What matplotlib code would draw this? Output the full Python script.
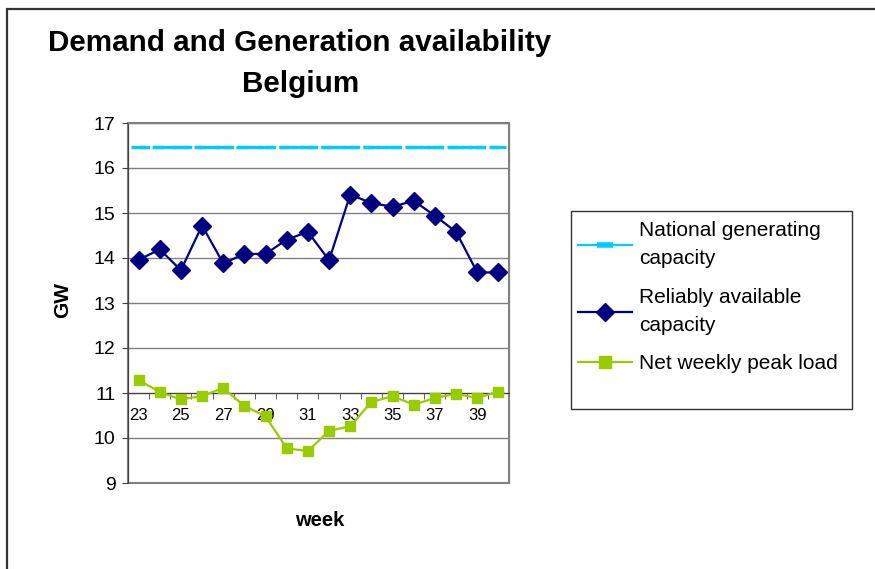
import matplotlib.pyplot as plt
from matplotlib.lines import Line2D
from matplotlib.patches import Rectangle
from matplotlib.ticker import FixedLocator

plt.rcParams['font.family'] = ['Liberation Sans', 'DejaVu Sans']

# === data ===
weeks = list(range(23, 41))
national = [16.47] * 18
reliable = [13.96, 14.19, 13.73, 14.72, 13.88, 14.09, 14.09, 14.41, 14.58,
            13.95, 15.41, 15.22, 15.14, 15.27, 14.94, 14.58, 13.68, 13.68]
peak = [11.29, 11.02, 10.86, 10.93, 11.11, 10.71, 10.48, 9.77, 9.71,
        10.16, 10.26, 10.80, 10.93, 10.74, 10.89, 10.98, 10.89, 11.03]
week_labels = [23, 25, 27, 29, 31, 33, 35, 37, 39]
y_ticks = list(range(9, 18))

W, H = 875, 569
fig = plt.figure(figsize=(W / 100, H / 100), dpi=100)
ax = fig.add_axes([128 / W, 1 - 483 / H, (509 - 128) / W, (483 - 123) / H])

# outer chart frame (runs off the right and bottom edges)
fig.patches.append(Rectangle((7 / W, -0.1), 1.2, 1.1 - 9 / H, transform=fig.transFigure,
                             fill=False, edgecolor='#333333', lw=1.6))

ax.plot(weeks, national, color='#00CCFF', lw=2.4, dashes=(3.2, 1.0),
        marker='_', markersize=12, markeredgewidth=2.4)
ax.plot(weeks, reliable, color='#000080', lw=1.6, marker='D', markersize=9, zorder=4)
ax.plot(weeks, peak, color='#99CC00', lw=1.6, marker='s', markersize=7.5, zorder=4)

ax.set_xlim(22.5, 40.5)
ax.set_ylim(9, 17)
ax.set_yticks(y_ticks)
ax.yaxis.grid(True, color='#808080', lw=1)
ax.set_axisbelow(True)

# category axis crosses at 11
ax.spines['bottom'].set_position(('data', 11))
ax.spines['bottom'].set_color('#404040')
ax.spines['left'].set_color('#404040')
for s in ['top', 'right']:
    ax.spines[s].set_color('#808080')
ax.patch.set_edgecolor('#808080')
ax.patch.set_linewidth(1.5)

ax.set_xticks(week_labels)
ax.xaxis.set_minor_locator(FixedLocator([w - 0.5 for w in weeks] + [weeks[-1] + 0.5]))
ax.tick_params(axis='x', which='major', length=0, pad=11, labelsize=12)
ax.tick_params(axis='x', which='minor', length=4, direction='out', color='#404040')
ax.tick_params(axis='y', length=4, direction='out', pad=5, labelsize=14, color='#404040')

fig.text(300 / W, 1 - 43 / H, 'Demand and Generation availability', ha='center', va='center',
         fontsize=21.3, fontweight='bold')
fig.text(301 / W, 1 - 84 / H, 'Belgium', ha='center', va='center', fontsize=21.3, fontweight='bold')
fig.text(63 / W, 1 - 300 / H, 'GW', rotation=90, ha='center', va='center', fontsize=15, fontweight='bold')
fig.text(320 / W, 1 - 521 / H, 'week', ha='center', va='center', fontsize=14.5, fontweight='bold')

# legend
fig.patches.append(Rectangle((571 / W, 1 - 409 / H), (852 - 571) / W, (409 - 211) / H,
                             transform=fig.transFigure, fill=False, edgecolor='#333333', lw=1))
handles = [
    Line2D([], [], color='#00CCFF', lw=1.6, marker='_', markersize=12, markeredgewidth=4),
    Line2D([], [], color='#000080', lw=1.6, marker='D', markersize=9),
    Line2D([], [], color='#99CC00', lw=1.6, marker='s', markersize=8),
]
labels = ['National generating\ncapacity', 'Reliably available\ncapacity', 'Net weekly peak load']
leg = fig.legend(handles, labels, loc='upper left', bbox_to_anchor=(578 / W, 1 - 221 / H),
                 frameon=False, fontsize=15, handlelength=2.6, handletextpad=0.35,
                 labelspacing=0.93, borderpad=0, borderaxespad=0)
for t in leg.get_texts():
    t.set_linespacing(1.62)

fig.savefig('out.png', dpi=100)
